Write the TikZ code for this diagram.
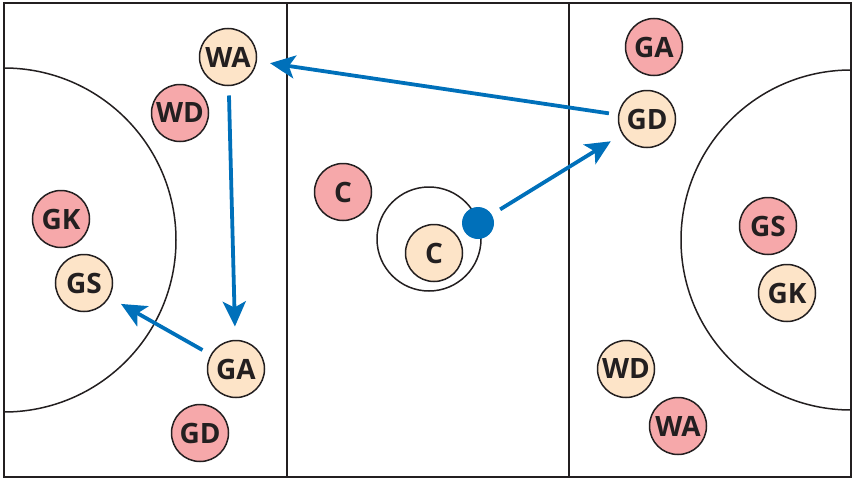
\documentclass[tikz,border=0pt]{standalone}
\usepackage{fontspec}
\setmainfont{Open Sans}
\usetikzlibrary{arrows.meta}
\definecolor{redbib}{RGB}{246,168,170}
\definecolor{creambib}{RGB}{253,228,200}
\definecolor{ballblue}{RGB}{0,112,186}
\definecolor{courtline}{RGB}{35,31,32}

\begin{document}
\begin{tikzpicture}[x=1pt,y=-1pt]
\tikzset{player/.style={circle,draw=courtline,line width=1.5pt,minimum size=57pt,inner sep=0pt,outer sep=0pt,text=courtline,font=\fontsize{28}{28}\selectfont\bfseries},
pass/.style={draw=ballblue,line width=3.8pt,-{Stealth[length=25pt,width=23pt,inset=6pt]},shorten <=10pt,shorten >=14pt}}
\useasboundingbox (0,0) rectangle (854,479);
% court
\draw[courtline,line width=2pt] (4,3) rectangle (851,477);
\draw[courtline,line width=1.8pt] (287,3) -- (287,477);
\draw[courtline,line width=1.8pt] (569,3) -- (569,477);
\draw[courtline,line width=1.5pt] (4,68) arc (-90:90:172);
\draw[courtline,line width=1.5pt] (851,70) arc (-90:-270:170);
\draw[courtline,line width=1.5pt] (429,239) circle (52);

% players
\foreach \n/\x/\y in {GA/654/47,WD/180/113,C/343/192,GK/61/219,GS/768/226,WA/678/426,GD/200/433}{%
	\node[player,fill=redbib] (p\n) at (\x,\y) {\n};
}%
\foreach \n/\x/\y in {WA/228/57,GD/647/119,C/434/253,GS/84/283,GK/787/293,WD/626/369,GA/236/369}{%
	\node[player,fill=creambib] (c\n) at (\x,\y) {\n};
}%
\node[circle,fill=ballblue,minimum size=32pt,inner sep=0pt,outer sep=0pt] (ball) at (478,223) {};

% passes
\draw[pass] (ball) -- (cGD);
\draw[pass] (cGD) -- (cWA);
\draw[pass] (cWA) -- (cGA);
\draw[pass] (cGA) -- (cGS);
\end{tikzpicture}
\end{document}
